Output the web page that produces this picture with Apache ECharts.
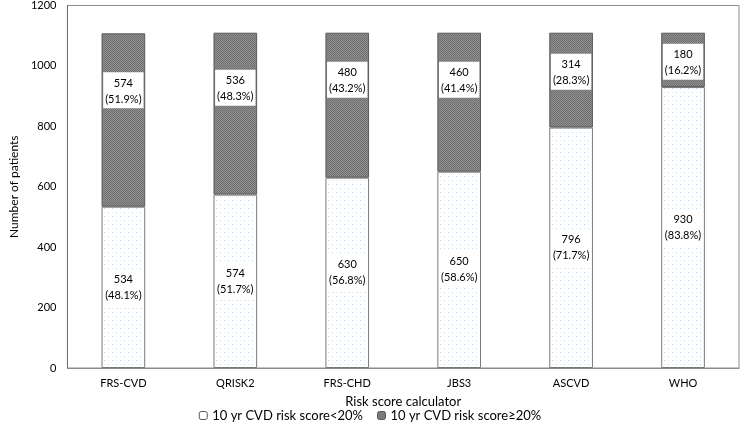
<!DOCTYPE html>
<html><head><meta charset="utf-8">
<script src="https://cdn.jsdelivr.net/npm/echarts@6/dist/echarts.min.js"></script>
<style>html,body{margin:0;padding:0;background:#fff}#c{width:740px;height:424px}</style>
</head><body><div id="c"></div>
<script>
var categories = ['FRS-CVD','QRISK2','FRS-CHD','JBS3','ASCVD','WHO'];
var lowRisk = [534,574,630,650,796,930];
var lowPct = ['48.1%','51.7%','56.8%','58.6%','71.7%','83.8%'];
var highRisk = [574,536,480,460,314,180];
var highPct = ['51.9%','48.3%','43.2%','41.4%','28.3%','16.2%'];
var seriesNames = ['10 yr CVD risk score<20%','10 yr CVD risk score\u226520%'];
var yTicks = [0,200,400,600,800,1000,1200];

// label offsets from segment top (style)
var highLabelGap = [39,37,29,29,21,11];

function dotPattern(){
  var c=document.createElement('canvas'); c.width=8; c.height=8;
  var g=c.getContext('2d'); g.fillStyle='#ffffff'; g.fillRect(0,0,8,8);
  g.fillStyle='#b8d3ee'; g.fillRect(0,0,1,1); g.fillRect(4,4,1,1);
  g.fillStyle='#dbe8f6'; g.fillRect(4,0,1,1); g.fillRect(0,4,1,1);
  return c;
}
function checkPattern(){
  var c=document.createElement('canvas'); c.width=2; c.height=2;
  var g=c.getContext('2d'); g.fillStyle='#939393'; g.fillRect(0,0,2,2);
  g.fillStyle='#6c6c6c'; g.fillRect(0,0,1,1); g.fillRect(1,1,1,1);
  return c;
}
var lowFill = {image: dotPattern(), repeat:'repeat'};
var highFill = {image: checkPattern(), repeat:'repeat'};
var font = 'Lato, "Open Sans", sans-serif';

var chart = echarts.init(document.getElementById('c'));
var labelStyle = {show:true, color:'#000', fontSize:11, fontFamily:font, backgroundColor:'#fff', padding:[3,2,1,2], lineHeight:16};
chart.setOption({
  animation:false,
  grid:{left:49, right:1, top:5, bottom:56, show:true, borderColor:'#8c8c8c', borderWidth:1},
  legend:{bottom:2, padding:0, left:'center', itemWidth:8, itemHeight:8, itemGap:14,
    textStyle:{fontSize:13, fontFamily:font, color:'#000'},
    data:[{name:seriesNames[0], itemStyle:{color:'#fff', borderColor:'#555', borderWidth:1}},
          {name:seriesNames[1], itemStyle:{color:'#7a7a7a', borderColor:'#555', borderWidth:1}}]},
  xAxis:{type:'category', data:categories, name:'Risk score calculator', nameLocation:'middle', nameGap:27,
    nameTextStyle:{fontSize:13, fontFamily:font, color:'#000'},
    axisLine:{lineStyle:{color:'#8c8c8c'}}, axisTick:{show:false},
    axisLabel:{fontSize:11, fontFamily:font, color:'#000', margin:10}},
  yAxis:{type:'value', min:yTicks[0], max:yTicks[yTicks.length-1], interval:yTicks[1]-yTicks[0],
    name:'Number of patients', nameLocation:'middle', nameGap:39,
    nameTextStyle:{fontSize:12, fontFamily:font, color:'#000'},
    axisLine:{show:true, lineStyle:{color:'#6e6e6e'}}, axisTick:{show:false}, splitLine:{show:false},
    axisLabel:{fontSize:11, fontFamily:font, color:'#000', margin:11, formatter:function(v){return String(v);}}},
  series:[
    {name:seriesNames[0], type:'bar', stack:'a', barWidth:'39%',
     itemStyle:{color:lowFill, borderColor:'#7a7a7a', borderWidth:1},
     label:Object.assign({}, labelStyle, {position:'inside',
       formatter:function(p){return lowRisk[p.dataIndex]+'\n('+lowPct[p.dataIndex]+')';}}),
     data:lowRisk},
    {name:seriesNames[1], type:'bar', stack:'a', barWidth:'39%',
     itemStyle:{color:highFill, borderColor:'#5a5a5a', borderWidth:1},
     data:highRisk.map(function(v,i){return {value:v, label:Object.assign({}, labelStyle, {position:'insideTop', distance:highLabelGap[i],
       formatter:function(p){return highRisk[p.dataIndex]+'\n('+highPct[p.dataIndex]+')';}})};})}
  ]
});
</script></body></html>
